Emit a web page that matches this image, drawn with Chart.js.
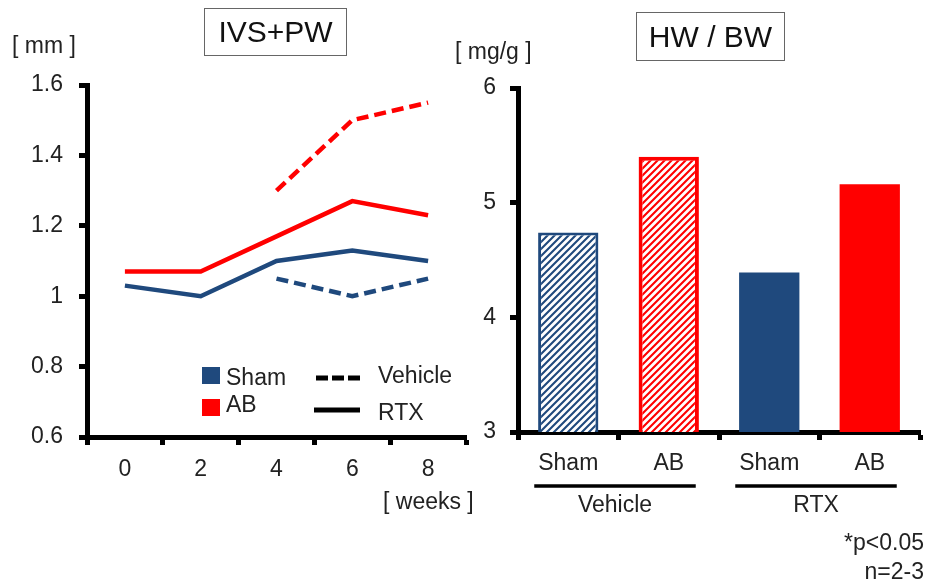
<!DOCTYPE html>
<html><head><meta charset="utf-8">
<script src="https://cdn.jsdelivr.net/npm/chart.js@4.4.1/dist/chart.umd.min.js"></script>
<style>
html,body{margin:0;padding:0;background:#fff;}
body{width:926px;height:583px;position:relative;overflow:hidden;font-family:"Liberation Sans",Arial,sans-serif;color:#222;}
canvas{position:absolute;top:0;}
.t{position:absolute;white-space:nowrap;font-size:23px;line-height:28px;}
.box{position:absolute;border:1.5px solid #666;font-size:30px;display:flex;align-items:center;justify-content:center;box-sizing:border-box;color:#111;}
.sw{position:absolute;}
</style></head><body>
<canvas id="c1" width="480" height="583" style="left:0;width:480px;height:583px"></canvas>
<canvas id="c2" width="486" height="583" style="left:440px;width:486px;height:583px"></canvas>

<div class="box" style="left:204px;top:8px;width:143px;height:48px;">IVS+PW</div>
<div class="box" style="left:636px;top:12px;width:149px;height:49px;">HW / BW</div>
<div class="t" style="left:12px;top:31px;">[ mm ]</div>
<div class="t" style="left:455px;top:37px;">[ mg/g ]</div>
<div class="t" style="left:383px;top:487px;">[ weeks ]</div>
<div class="t" style="right:2px;top:528px;">*p&lt;0.05</div>
<div class="t" style="right:2px;top:557px;">n=2-3</div>

<div class="sw" style="left:202px;top:367px;width:18px;height:17px;background:#1f497d;"></div>
<div class="t" style="left:226px;top:363px;">Sham</div>
<div class="sw" style="left:202px;top:399px;width:18px;height:17px;background:#ff0000;"></div>
<div class="t" style="left:226px;top:390px;">AB</div>
<svg class="sw" style="left:314px;top:373px;" width="48" height="10"><line x1="2" y1="5" x2="46" y2="5" stroke="#000" stroke-width="5" stroke-dasharray="12,4"/></svg>
<div class="t" style="left:378px;top:361px;">Vehicle</div>
<svg class="sw" style="left:314px;top:405px;" width="48" height="10"><line x1="0" y1="5" x2="46" y2="5" stroke="#000" stroke-width="5"/></svg>
<div class="t" style="left:378px;top:398px;">RTX</div>

<script>
// ---- data ----
const weeks = ["0", "2", "4", "6", "8"];
const shamRTX = [1.03, 1.00, 1.10, 1.13, 1.10];
const abRTX = [1.07, 1.07, 1.17, 1.27, 1.23];
const shamVehicle = [null, null, 1.05, 1.00, 1.05];
const abVehicle = [null, null, 1.30, 1.50, 1.55];
const ivsTickLabels = ["0.6", "0.8", "1", "1.2", "1.4", "1.6"];

const hwCategories = ["Sham", "AB", "Sham", "AB"];
const hwValues = [4.74, 5.40, 4.39, 5.16];
const hwGroupLabels = ["Vehicle", "RTX"];
const hwGroupSpans = [[0, 1], [2, 3]];
const hwTickLabels = ["3", "4", "5", "6"];

// ---- styles ----
const NAVY = '#1f497d';
const RED = '#ff0000';
const FONT = {family: '"Liberation Sans", Arial, sans-serif', size: 23};
const TXT = '#222';

function hatch(color) {
  const s = 7;
  const c = document.createElement('canvas');
  c.width = s; c.height = s;
  const g = c.getContext('2d');
  g.fillStyle = '#fff'; g.fillRect(0, 0, s, s);
  g.strokeStyle = color; g.lineWidth = 2.1;
  g.beginPath();
  g.moveTo(-1, s + 1); g.lineTo(s + 1, -1);
  g.moveTo(-1, 1); g.lineTo(1, -1);
  g.moveTo(s - 1, s + 1); g.lineTo(s + 1, s - 1);
  g.stroke();
  return document.getElementById('c2').getContext('2d').createPattern(c, 'repeat');
}

function axisGrid() {
  return {display: true, drawOnChartArea: false, drawTicks: true, tickLength: 8, tickWidth: 5, tickColor: '#000', color: '#000'};
}
const AXIS_BORDER = {display: true, color: '#000', width: 5};

// ---- left chart ----
new Chart(document.getElementById('c1'), {
  type: 'line',
  data: {
    labels: weeks,
    datasets: [
      {data: abVehicle, borderColor: RED, borderDash: [12, 6]},
      {data: shamVehicle, borderColor: NAVY, borderDash: [12, 6]},
      {data: abRTX, borderColor: RED},
      {data: shamRTX, borderColor: NAVY}
    ]
  },
  options: {
    responsive: false, animation: false,
    layout: {padding: {top: 85, right: 14, left: 0, bottom: 0}},
    elements: {line: {borderWidth: 4.5, tension: 0, borderCapStyle: 'butt'}, point: {radius: 0}},
    plugins: {legend: {display: false}, tooltip: {enabled: false}},
    scales: {
      x: {
        type: 'category', offset: true,
        grid: Object.assign(axisGrid(), {offset: true}),
        border: AXIS_BORDER,
        ticks: {font: FONT, color: TXT, padding: 11, maxRotation: 0},
        afterFit: s => { s.height = 146; }
      },
      y: {
        min: 0.6, max: 1.6,
        grid: axisGrid(),
        border: AXIS_BORDER,
        ticks: {stepSize: 0.2, font: FONT, color: TXT, padding: 16, callback: (v, i) => ivsTickLabels[i]},
        afterFit: s => { s.width = 87; }
      }
    }
  }
});

// ---- right chart ----
const groupPlugin = {
  id: 'groups',
  afterDraw(chart) {
    const ctx = chart.ctx, x = chart.scales.x;
    ctx.save();
    ctx.strokeStyle = '#000'; ctx.lineWidth = 3.5;
    ctx.fillStyle = TXT;
    ctx.font = '23px "Liberation Sans", Arial, sans-serif';
    ctx.textAlign = 'center'; ctx.textBaseline = 'middle';
    hwGroupSpans.forEach((sp, i) => {
      const x1 = x.getPixelForValue(sp[0]) - 34;
      const x2 = x.getPixelForValue(sp[1]) + 27;
      ctx.beginPath(); ctx.moveTo(x1, 486); ctx.lineTo(x2, 486); ctx.stroke();
      ctx.fillText(hwGroupLabels[i], (x1 + x2) / 2, 506);
    });
    ctx.restore();
  }
};

new Chart(document.getElementById('c2'), {
  type: 'bar',
  data: {
    labels: hwCategories,
    datasets: [{
      data: hwValues,
      backgroundColor: [hatch(NAVY), hatch(RED), NAVY, RED],
      borderColor: [NAVY, RED, NAVY, RED],
      borderWidth: [3, 4, 0, 0],
      barPercentage: 0.6, categoryPercentage: 1.0
    }]
  },
  plugins: [groupPlugin],
  options: {
    responsive: false, animation: false,
    layout: {padding: {top: 88, right: 6, left: 0, bottom: 0}},
    plugins: {legend: {display: false}, tooltip: {enabled: false}},
    scales: {
      x: {
        grid: Object.assign(axisGrid(), {offset: true}),
        border: AXIS_BORDER,
        ticks: {font: FONT, color: TXT, padding: 10, maxRotation: 0},
        afterFit: s => { s.height = 151; }
      },
      y: {
        min: 3, max: 6,
        grid: axisGrid(),
        border: AXIS_BORDER,
        ticks: {stepSize: 1, font: FONT, color: TXT, padding: 14, callback: (v, i) => hwTickLabels[i]},
        afterFit: s => { s.width = 78; }
      }
    }
  }
});
</script>
</body></html>
